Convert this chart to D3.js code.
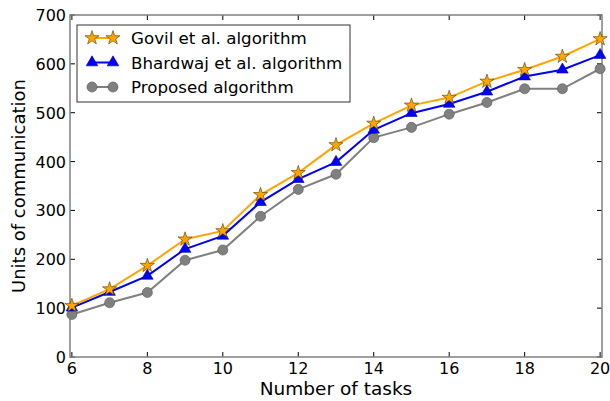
<!DOCTYPE html>
<html><head><meta charset="utf-8">
<script src="https://cdn.jsdelivr.net/npm/d3@7"></script>
<style>body{margin:0;background:#fff}svg{display:block}text{font-family:"DejaVu Sans",sans-serif}</style>
</head><body><svg id="c" width="610" height="401"></svg>
<script>
const tasks = [6,7,8,9,10,11,12,13,14,15,16,17,18,19,20];
const govil = [105,139,187,241,258,332,377,434,478,515,531,564,588,615,651];
const bhardwaj = [101,133,166,221,248,317,364,399,465,499,518,543,574,588,618];
const proposed = [87,111,132,198,219,288,343,374,449,470,497,521,549,549,590];
const xTicks = [6,8,10,12,14,16,18,20];
const yTicks = [0,100,200,300,400,500,600,700];
const seriesNames = ["Govil et al. algorithm","Bhardwaj et al. algorithm","Proposed algorithm"];

const svg = d3.select("#c");
const L=70,R=602,T=15,B=357;
const x = d3.scaleLinear().domain([5.95,20.05]).range([L,R]);
const y = d3.scaleLinear().domain([0,700]).range([B,T]);
const spine="#808080";

const g = svg.append("g");
xTicks.forEach(t=>{
  g.append("line").attr("x1",x(t)).attr("x2",x(t)).attr("y1",B).attr("y2",B-5).attr("stroke","#000").attr("stroke-width",1);
  g.append("line").attr("x1",x(t)).attr("x2",x(t)).attr("y1",T).attr("y2",T+5).attr("stroke","#000").attr("stroke-width",1);
  g.append("text").attr("x",x(t)).attr("y",B+17).attr("text-anchor","middle").attr("font-size",16).text(t);
});
yTicks.forEach(t=>{
  g.append("line").attr("x1",L).attr("x2",L+5).attr("y1",y(t)).attr("y2",y(t)).attr("stroke","#000");
  g.append("line").attr("x1",R).attr("x2",R-5).attr("y1",y(t)).attr("y2",y(t)).attr("stroke","#000");
  g.append("text").attr("x",L-4).attr("y",y(t)+6).attr("text-anchor","end").attr("font-size",16).text(t);
});
svg.append("rect").attr("x",L).attr("y",T).attr("width",R-L).attr("height",B-T).attr("fill","none").attr("stroke",spine).attr("stroke-width",1.5);

svg.append("text").attr("x",(L+R)/2).attr("y",395).attr("text-anchor","middle").attr("font-size",18.5).text("Number of tasks");
svg.append("text").attr("transform",`translate(25,${(T+B)/2}) rotate(-90)`).attr("text-anchor","middle").attr("font-size",18).text("Units of communication");

const star = d3.symbol().type(d3.symbolStar).size(62);
const tri = d3.symbol().type(d3.symbolTriangle).size(58);
const circ = d3.symbol().type(d3.symbolCircle).size(80);
const series = [
  {name:seriesNames[0], vals:govil, color:"#FFA500", stroke:"#5a3a00", sym:star},
  {name:seriesNames[1], vals:bhardwaj, color:"#0000FF", stroke:"#000080", sym:tri},
  {name:seriesNames[2], vals:proposed, color:"#808080", stroke:"#555", sym:circ}
];
const line = d3.line().x((d,i)=>x(tasks[i])).y(d=>y(d));
const plot = svg.append("g");
series.slice().reverse().forEach(s=>{
  plot.append("path").attr("d",line(s.vals)).attr("fill","none").attr("stroke",s.color).attr("stroke-width",2);
  s.vals.forEach((v,i)=>{
    plot.append("path").attr("d",s.sym()).attr("transform",`translate(${x(tasks[i])},${y(v)})`)
      .attr("fill",s.color).attr("stroke",s.stroke).attr("stroke-width",0.6);
  });
});

const lg = svg.append("g");
lg.append("rect").attr("x",77).attr("y",25).attr("width",273).attr("height",77).attr("fill","#fff").attr("stroke","#333").attr("stroke-width",1);
series.forEach((s,i)=>{
  const yy = 38 + i*24.5;
  lg.append("line").attr("x1",92).attr("x2",113).attr("y1",yy).attr("y2",yy).attr("stroke",s.color).attr("stroke-width",2);
  [92,113].forEach(px=>lg.append("path").attr("d",s.sym()).attr("transform",`translate(${px},${yy})`).attr("fill",s.color).attr("stroke",s.stroke).attr("stroke-width",0.6));
  lg.append("text").attr("x",131).attr("y",yy+6).attr("font-size",16.7).text(s.name);
});
</script></body></html>
